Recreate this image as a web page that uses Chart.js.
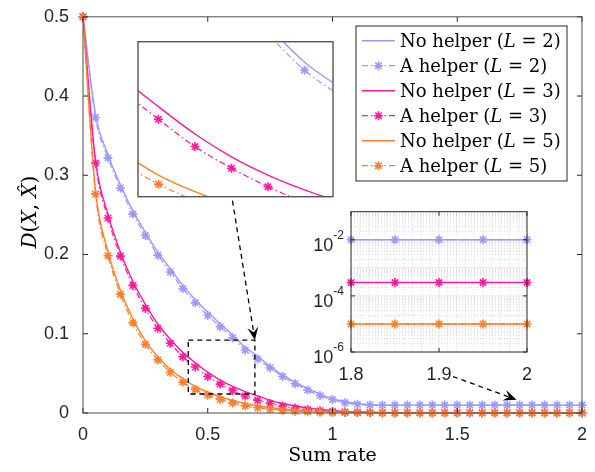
<!DOCTYPE html>
<html>
<head>
<meta charset="utf-8">
<script src="https://cdn.jsdelivr.net/npm/chart.js@4.4.1/dist/chart.umd.min.js"></script>
<style>
html, body { margin: 0; padding: 0; background: #fff; }
#wrap { position: relative; width: 595px; height: 472px; }
#wrap canvas { position: absolute; left: 0; top: 0; }
</style>
</head>
<body>
<div id="wrap">
<canvas id="main" width="595" height="472"></canvas>
<canvas id="zoomInset" width="595" height="472"></canvas>
<canvas id="logInset" width="595" height="472"></canvas>
</div>
<script>
// sum rate grid (x values)
const rates = [0,0.05,0.1,0.15,0.2,0.25,0.3,0.35,0.4,0.45,0.5,0.55,0.6,0.65,0.7,0.75,0.8,0.85,0.9,0.95,
               1,1.05,1.1,1.15,1.2,1.25,1.3,1.35,1.4,1.45,1.5,1.55,1.6,1.65,1.7,1.75,1.8,1.85,1.9,1.95,2];

// distortion values
const noHelperL2 = [0.5,0.377,0.326,0.288,0.255,0.228,0.203,0.182,0.161,0.143,0.127,0.1125,0.0985,0.083,0.0715,0.059,0.048,0.039,0.031,0.024,
                    0.018,0.0145,0.012,0.0105,0.01,0.01,0.01,0.01,0.01,0.01,0.01,0.01,0.01,0.01,0.01,0.01,0.01,0.01,0.01,0.01,0.01];
const helperL2   = [0.5,0.373,0.322,0.284,0.251,0.224,0.199,0.178,0.157,0.139,0.123,0.109,0.095,0.0795,0.068,0.057,0.046,0.037,0.029,0.022,
                    0.017,0.013,0.011,0.0102,0.01,0.01,0.01,0.01,0.01,0.01,0.01,0.01,0.01,0.01,0.01,0.01,0.01,0.01,0.01,0.01,0.01];
const noHelperL3 = [0.5,0.319,0.251,0.203,0.166,0.137,0.112,0.093,0.0765,0.0635,0.0515,0.0415,0.0335,0.027,0.0215,0.016,0.012,0.0088,0.0063,0.0045,
                    0.0031,0.0021,0.0014,0.0009,0.0006,0.0004,0.0003,0.0003,0.0003,0.0003,0.0003,0.0003,0.0003,0.0003,0.0003,0.0003,0.0003,0.0003,0.0003,0.0003,0.0003];
const helperL3   = [0.5,0.3155,0.246,0.198,0.161,0.132,0.107,0.088,0.071,0.058,0.046,0.0365,0.0284,0.0215,0.016,0.012,0.0088,0.0062,0.0043,0.0029,
                    0.0019,0.0012,0.0008,0.0005,0.0004,0.0003,0.0003,0.0003,0.0003,0.0003,0.0003,0.0003,0.0003,0.0003,0.0003,0.0003,0.0003,0.0003,0.0003,0.0003,0.0003];
const noHelperL5 = [0.5,0.281,0.204,0.155,0.119,0.091,0.071,0.055,0.0435,0.0335,0.0262,0.0205,0.0158,0.0121,0.0092,0.0069,0.0051,0.0037,0.0027,0.0019,
                    0.0013,0.0009,0.0006,0.0004,0.00027,0.00018,0.00012,0.00008,0.00005,0.00003,0.00002,0.000015,0.00001,0.00001,0.00001,0.00001,0.00001,0.00001,0.00001,0.00001,0.00001];
const helperL5   = [0.5,0.2765,0.1986,0.150,0.114,0.0867,0.067,0.0514,0.039,0.0295,0.0224,0.017,0.0125,0.009,0.0066,0.0047,0.0033,0.0023,0.0016,0.0011,
                    0.00075,0.0005,0.00034,0.00023,0.00015,0.0001,0.00007,0.00005,0.00003,0.00002,0.000015,0.00001,0.00001,0.00001,0.00001,0.00001,0.00001,0.00001,0.00001,0.00001,0.00001];

const seriesValues = [noHelperL2, helperL2, noHelperL3, helperL3, noHelperL5, helperL5];
const seriesNames  = ['No helper', 'A helper', 'No helper', 'A helper', 'No helper', 'A helper'];
const seriesL      = ['2', '2', '3', '3', '5', '5'];
const seriesHelper = [false, true, false, true, false, true];
const seriesColors = ['#9999ff', '#9999ff', '#ff1a9c', '#ff1a9c', '#ff7f2a', '#ff7f2a'];

// tick labels
const xTicksInset = [1.8, 1.9, 2];
const yExpInset = [-6, -4, -2];

// zoom box (data range of the upper inset)
const zoomX = [0.422, 0.689];
const zoomY = [0.024, 0.092];

const fontSans = 'Liberation Sans, Arial, sans-serif';
const fontSerif = 'DejaVu Serif, serif';
const helperDash = [6, 3, 1.5, 3];

function buildSets(keep, clip) {
    return seriesValues.map((vals, i) => ({
        label: seriesNames[i] + ' (L = ' + seriesL[i] + ')',
        data: rates.map((r, j) => ({x: r, y: vals[j]})).filter(p => keep(p.x)),
        borderColor: seriesColors[i],
        backgroundColor: seriesColors[i],
        borderWidth: seriesHelper[i] ? 1.2 : 1.4,
        borderDash: seriesHelper[i] ? helperDash : [],
        pointStyle: 'star',
        pointRadius: seriesHelper[i] ? 4.5 : 0,
        pointBorderWidth: 1.6,
        pointBorderColor: seriesColors[i],
        pointBackgroundColor: seriesColors[i],
        cubicInterpolationMode: 'monotone',
        clip: clip,
        order: -i,
    }));
}

function star(ctx, x, y, r) {
    ctx.beginPath();
    for (let k = 0; k < 4; k++) {
        const a = k * Math.PI / 4;
        ctx.moveTo(x - r * Math.cos(a), y - r * Math.sin(a));
        ctx.lineTo(x + r * Math.cos(a), y + r * Math.sin(a));
    }
    ctx.stroke();
}

// draw text made of [text, italic] parts
function richText(ctx, parts, x, y, size) {
    let cx = x;
    parts.forEach(p => {
        ctx.font = (p[1] ? 'italic ' : '') + size + 'px ' + fontSerif;
        ctx.fillText(p[0], cx, y);
        cx += ctx.measureText(p[0]).width;
    });
    return cx - x;
}
function richWidth(ctx, parts, size) {
    let w = 0;
    parts.forEach(p => {
        ctx.font = (p[1] ? 'italic ' : '') + size + 'px ' + fontSerif;
        w += ctx.measureText(p[0]).width;
    });
    return w;
}

function dashedArrow(ctx, x0, y0, x1, y1) {
    const a = Math.atan2(y1 - y0, x1 - x0);
    const c = Math.cos(a), s = Math.sin(a);
    const len = 13, half = 5.5, back = 8;
    ctx.save();
    ctx.strokeStyle = '#000';
    ctx.lineWidth = 1.3;
    ctx.setLineDash([5, 4]);
    ctx.beginPath();
    ctx.moveTo(x0, y0);
    ctx.lineTo(x1 - back * c, y1 - back * s);
    ctx.stroke();
    ctx.setLineDash([]);
    ctx.fillStyle = '#000';
    ctx.beginPath();
    ctx.moveTo(x1, y1);
    ctx.lineTo(x1 - len * c - half * s, y1 - len * s + half * c);
    ctx.lineTo(x1 - back * c, y1 - back * s);
    ctx.lineTo(x1 - len * c + half * s, y1 - len * s - half * c);
    ctx.closePath();
    ctx.fill();
    ctx.restore();
}

const mainDecor = {
    id: 'mainDecor',
    beforeDraw(chart) {
        const ctx = chart.ctx;
        ctx.save();
        ctx.fillStyle = '#fff';
        ctx.fillRect(0, 0, chart.width, chart.height);
        ctx.restore();
    },
    afterDraw(chart) {
        const ctx = chart.ctx, a = chart.chartArea;
        const xs = chart.scales.x, ys = chart.scales.y;
        ctx.save();
        // inward ticks
        ctx.strokeStyle = '#262626';
        ctx.lineWidth = 1;
        ctx.beginPath();
        xs.ticks.forEach(t => {
            const px = xs.getPixelForValue(t.value);
            ctx.moveTo(px, a.bottom); ctx.lineTo(px, a.bottom - 5);
            ctx.moveTo(px, a.top); ctx.lineTo(px, a.top + 5);
        });
        ys.ticks.forEach(t => {
            const py = ys.getPixelForValue(t.value);
            ctx.moveTo(a.left, py); ctx.lineTo(a.left + 5, py);
            ctx.moveTo(a.right, py); ctx.lineTo(a.right - 5, py);
        });
        ctx.stroke();
        // frame
        ctx.strokeStyle = '#4d4d4d';
        ctx.strokeRect(a.left, a.top, a.right - a.left, a.bottom - a.top);

        // dashed zoom box
        const bx0 = xs.getPixelForValue(zoomX[0]), bx1 = xs.getPixelForValue(zoomX[1]);
        const by0 = ys.getPixelForValue(zoomY[1]), by1 = ys.getPixelForValue(zoomY[0]);
        ctx.strokeStyle = '#000';
        ctx.lineWidth = 1.3;
        ctx.setLineDash([5, 4]);
        ctx.strokeRect(bx0, by0, bx1 - bx0, by1 - by0);
        ctx.setLineDash([]);

        // arrows
        dashedArrow(ctx, xs.getPixelForValue(0.599), ys.getPixelForValue(0.268), bx1, by0);
        dashedArrow(ctx, xs.getPixelForValue(1.483), ys.getPixelForValue(0.046),
                    xs.getPixelForValue(1.7375), ys.getPixelForValue(0.0168));

        // axis titles
        ctx.fillStyle = '#000';
        ctx.textBaseline = 'alphabetic';
        ctx.font = '19px ' + fontSerif;
        ctx.textAlign = 'center';
        ctx.fillText('Sum rate', (a.left + a.right) / 2, 461);
        ctx.textAlign = 'left';
        const yParts = [['D', true], ['(', false], ['X', true], [', ', false], ['X\u0302', true], [')', false]];
        const yw = richWidth(ctx, yParts, 20);
        ctx.save();
        ctx.translate(36, 212);
        ctx.rotate(-Math.PI / 2);
        richText(ctx, yParts, -yw / 2, 0, 20);
        ctx.restore();

        // legend
        const lx0 = 356, ly0 = 26, lx1 = 567, ly1 = 181;
        ctx.fillStyle = '#fff';
        ctx.fillRect(lx0, ly0, lx1 - lx0, ly1 - ly0);
        ctx.strokeStyle = '#262626';
        ctx.lineWidth = 1;
        ctx.strokeRect(lx0, ly0, lx1 - lx0, ly1 - ly0);
        seriesNames.forEach((name, i) => {
            const cy = 40.7 + 25 * i;
            ctx.strokeStyle = seriesColors[i];
            ctx.lineWidth = seriesHelper[i] ? 1.2 : 1.4;
            ctx.setLineDash(seriesHelper[i] ? helperDash : []);
            ctx.beginPath();
            ctx.moveTo(362, cy); ctx.lineTo(395, cy);
            ctx.stroke();
            ctx.setLineDash([]);
            if (seriesHelper[i]) {
                ctx.lineWidth = 1.6;
                star(ctx, 378.5, cy, 4.5);
            }
            ctx.fillStyle = '#000';
            richText(ctx, [[name + ' (', false], ['L', true], [' = ' + seriesL[i] + ')', false]], 400, cy + 6, 18);
        });
        ctx.restore();
    }
};

const tickText = v => String(+Number(v).toFixed(2));

new Chart(document.getElementById('main'), {
    type: 'line',
    data: { datasets: buildSets(() => true, false) },
    options: {
        responsive: false,
        animation: false,
        layout: { padding: { left: 0, top: 11, right: 13, bottom: 0 } },
        scales: {
            x: {
                type: 'linear', min: 0, max: 2,
                ticks: { stepSize: 0.5, font: { family: fontSans, size: 18 }, color: '#262626', padding: 3, maxRotation: 0, callback: tickText },
                grid: { display: false },
                border: { display: false },
                afterFit(s) { s.height = 59; }
            },
            y: {
                type: 'linear', min: 0, max: 0.5,
                ticks: { stepSize: 0.1, font: { family: fontSans, size: 18 }, color: '#262626', padding: 6, callback: tickText },
                grid: { display: false },
                border: { display: false },
                afterFit(s) { s.width = 83; }
            }
        },
        plugins: { legend: { display: false }, tooltip: { enabled: false } }
    },
    plugins: [mainDecor]
});

// upper inset: zoom of the dashed box
const zoomDecor = {
    id: 'zoomDecor',
    beforeDatasetsDraw(chart) {
        const ctx = chart.ctx, a = chart.chartArea;
        ctx.save();
        ctx.fillStyle = '#fff';
        ctx.fillRect(a.left, a.top, a.right - a.left, a.bottom - a.top);
        ctx.restore();
    },
    afterDraw(chart) {
        const ctx = chart.ctx, a = chart.chartArea;
        ctx.save();
        ctx.strokeStyle = '#555';
        ctx.lineWidth = 1.4;
        ctx.strokeRect(a.left, a.top, a.right - a.left, a.bottom - a.top);
        ctx.restore();
    }
};

new Chart(document.getElementById('zoomInset'), {
    type: 'line',
    data: { datasets: buildSets(() => true, 0) },
    options: {
        responsive: false,
        animation: false,
        layout: { padding: { left: 138, top: 41.7, right: 262, bottom: 275.3 } },
        scales: {
            x: { type: 'linear', min: zoomX[0], max: zoomX[1], display: false },
            y: { type: 'linear', min: zoomY[0], max: zoomY[1], display: false }
        },
        plugins: { legend: { display: false }, tooltip: { enabled: false } }
    },
    plugins: [zoomDecor]
});

// lower inset: log scale, 1.8 .. 2
const logDecor = {
    id: 'logDecor',
    beforeDatasetsDraw(chart) {
        const ctx = chart.ctx, a = chart.chartArea;
        const xs = chart.scales.x, ys = chart.scales.y;
        ctx.save();
        ctx.fillStyle = '#fff';
        ctx.fillRect(a.left, a.top, a.right - a.left, a.bottom - a.top);
        // minor grid
        ctx.strokeStyle = '#c4c4c4';
        ctx.lineWidth = 0.7;
        ctx.setLineDash([1, 2]);
        ctx.beginPath();
        for (let e = -6; e < -1; e++) {
            for (let m = 2; m <= 9; m++) {
                const py = ys.getPixelForValue(m * Math.pow(10, e));
                ctx.moveTo(a.left, py); ctx.lineTo(a.right, py);
            }
        }
        for (let k = 1; k < 20; k++) {
            if (k === 10) continue;
            const px = xs.getPixelForValue(1.8 + k * 0.01);
            ctx.moveTo(px, a.top); ctx.lineTo(px, a.bottom);
        }
        ctx.stroke();
        ctx.setLineDash([]);
        // major grid
        ctx.strokeStyle = '#dedede';
        ctx.lineWidth = 0.8;
        ctx.beginPath();
        for (let e = -5; e < -1; e++) {
            const py = ys.getPixelForValue(Math.pow(10, e));
            ctx.moveTo(a.left, py); ctx.lineTo(a.right, py);
        }
        const pmid = xs.getPixelForValue(xTicksInset[1]);
        ctx.moveTo(pmid, a.top); ctx.lineTo(pmid, a.bottom);
        ctx.stroke();
        ctx.restore();
    },
    afterDraw(chart) {
        const ctx = chart.ctx, a = chart.chartArea;
        const xs = chart.scales.x, ys = chart.scales.y;
        ctx.save();
        ctx.strokeStyle = '#262626';
        ctx.lineWidth = 1;
        ctx.strokeRect(a.left, a.top, a.right - a.left, a.bottom - a.top);
        // inward ticks
        ctx.beginPath();
        xTicksInset.forEach(v => {
            const px = xs.getPixelForValue(v);
            ctx.moveTo(px, a.bottom); ctx.lineTo(px, a.bottom - 4);
            ctx.moveTo(px, a.top); ctx.lineTo(px, a.top + 4);
        });
        yExpInset.forEach(e => {
            const py = ys.getPixelForValue(Math.pow(10, e));
            ctx.moveTo(a.left, py); ctx.lineTo(a.left + 4, py);
            ctx.moveTo(a.right, py); ctx.lineTo(a.right - 4, py);
        });
        ctx.stroke();
        // tick labels
        ctx.fillStyle = '#262626';
        ctx.textBaseline = 'alphabetic';
        ctx.textAlign = 'center';
        ctx.font = '18px ' + fontSans;
        xTicksInset.forEach(v => {
            ctx.fillText(String(v), xs.getPixelForValue(v), 379.5);
        });
        ctx.textAlign = 'left';
        yExpInset.forEach(e => {
            const py = ys.getPixelForValue(Math.pow(10, e));
            const sup = '-' + Math.abs(e);
            ctx.font = '12px ' + fontSans;
            const ws = ctx.measureText(sup).width;
            ctx.font = '18px ' + fontSans;
            const wb = ctx.measureText('10').width;
            const right = a.left - 7;
            ctx.fillText('10', right - ws - wb, py + 11);
            ctx.font = '12px ' + fontSans;
            ctx.fillText(sup, right - ws, py - 1);
        });
        ctx.restore();
    }
};

new Chart(document.getElementById('logInset'), {
    type: 'line',
    data: { datasets: buildSets(x => x >= 1.8 - 1e-9, false) },
    options: {
        responsive: false,
        animation: false,
        layout: { padding: { left: 351, top: 211.7, right: 68, bottom: 120 } },
        scales: {
            x: { type: 'linear', min: 1.8, max: 2, display: false },
            y: { type: 'logarithmic', min: 1e-6, max: 1e-1, display: false }
        },
        plugins: { legend: { display: false }, tooltip: { enabled: false } }
    },
    plugins: [logDecor]
});
</script>
</body>
</html>
